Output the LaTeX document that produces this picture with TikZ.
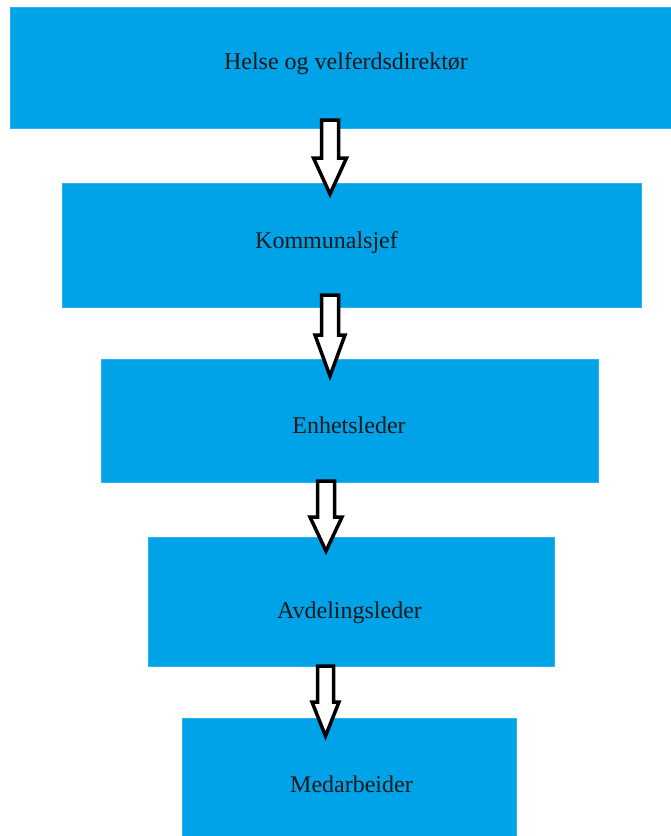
\documentclass[tikz,border=0pt]{standalone}
\usepackage{fontspec}
\setmainfont{Liberation Serif}
\begin{document}
\begin{tikzpicture}[x=1pt,y=-1pt,
  box/.style={rectangle, fill=boxblue, draw=boxedge, line width=0.8pt, inner sep=0pt},
  boxtext/.style={anchor=base, inner sep=0pt, font=\fontsize{24}{28}\selectfont, text=black!90},
  hollowarrow/.style={draw=black, fill=white, line width=3.5pt, miter limit=10}
]
\definecolor{boxblue}{RGB}{0,162,232}
\definecolor{boxedge}{RGB}{40,178,238}

% canvas
\fill[white] (0,0) rectangle (671,836);
\useasboundingbox (0,0) rectangle (671,836);

% level boxes
\node[box, minimum width=661pt, minimum height=121pt] (b1) at (340.5,67.5) {};
\node[box, minimum width=579pt, minimum height=124pt] (b2) at (351.5,245) {};
\node[box, minimum width=497pt, minimum height=123pt] (b3) at (349.5,420.5) {};
\node[box, minimum width=406pt, minimum height=129pt] (b4) at (351,601.5) {};
\node[box, minimum width=334pt, minimum height=120pt] (b5) at (349,778) {};

% titles
\node[boxtext] (t1) at (346,69) {Helse og velferdsdirektør};
\node[boxtext] (t2) at (326.5,248) {Kommunalsjef};
\node[boxtext] (t3) at (349,433) {Enhetsleder};
\node[boxtext] (t4) at (349.5,618) {Avdelingsleder};
\node[boxtext] (t5) at (351.5,792) {Medarbeider};

% hollow block arrow: #1 centre x, #2 top, #3 shoulder, #4 tip, #5 shaft half width, #6 head half width
\newcommand\blockarrow[6]{%
  \draw[hollowarrow]
    (#1-#5,#2) -- (#1+#5,#2) -- (#1+#5,#3) -- (#1+#6,#3)
    -- (#1,#4) -- (#1-#6,#3) -- (#1-#5,#3) -- cycle;}

\blockarrow{330}{120}{158}{194}{8.5}{16.5}
\blockarrow{330}{295}{335}{376}{8.5}{15}
\blockarrow{326}{481}{517}{551}{8.5}{16}
\blockarrow{325.5}{666}{702}{736}{8}{13.5}
\end{tikzpicture}
\end{document}
